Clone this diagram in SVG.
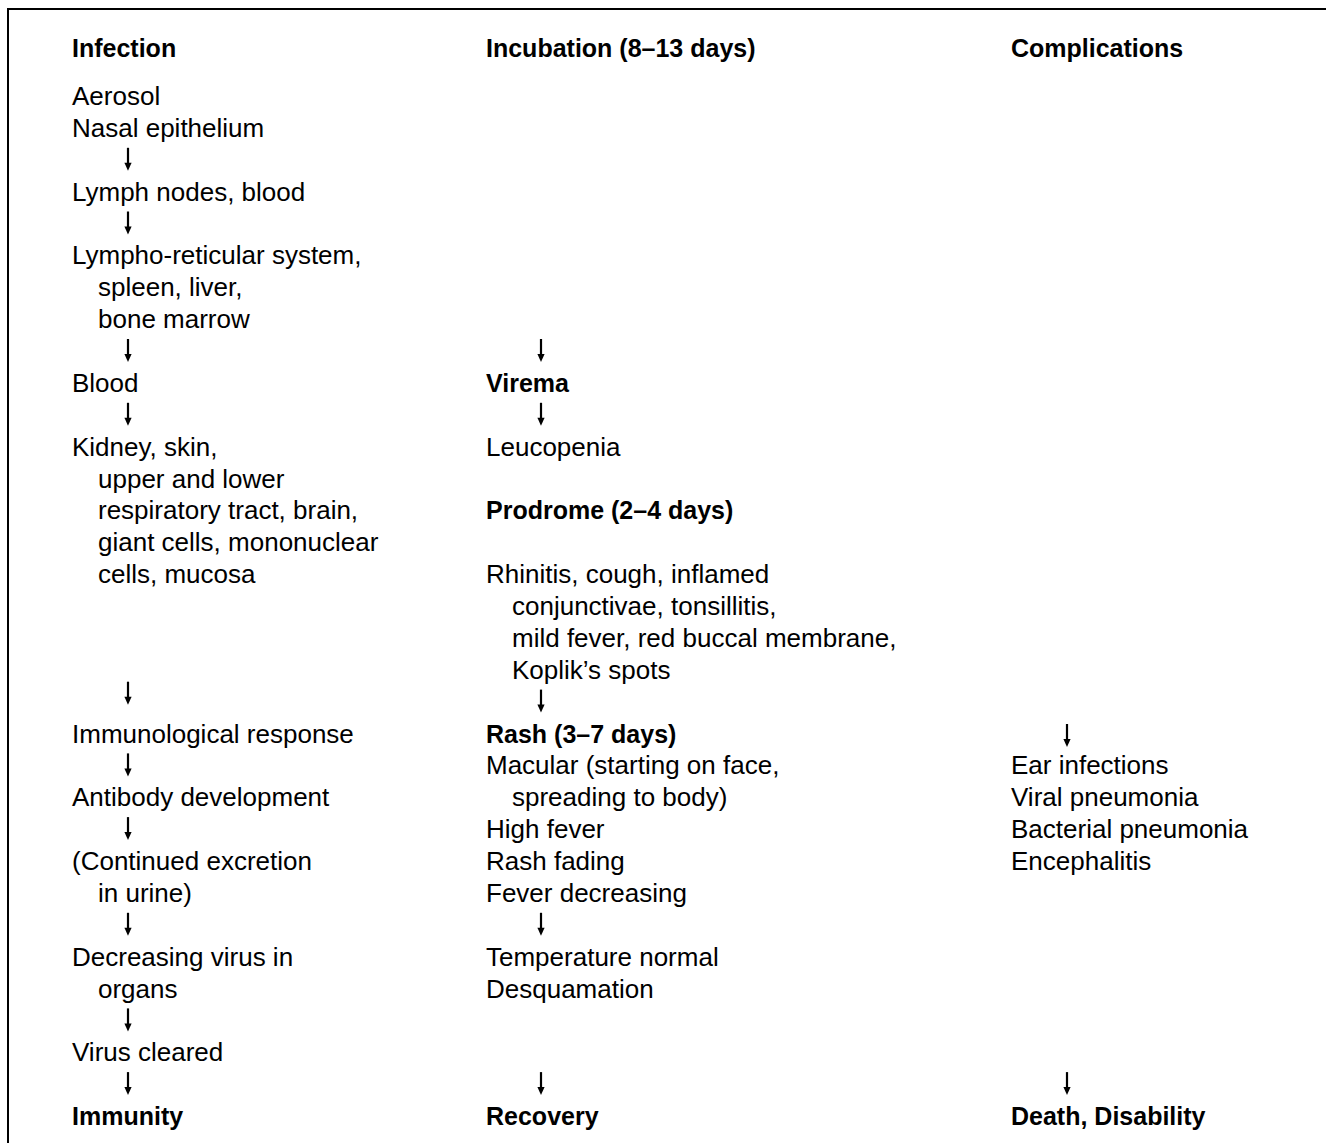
<svg xmlns="http://www.w3.org/2000/svg" xmlns:xlink="http://www.w3.org/1999/xlink" width="1326" height="1143" viewBox="0 0 1326 1143">
<style>
text{font-family:"Liberation Sans",Arial,sans-serif;font-size:26px;fill:#000}
.b{font-weight:bold;font-size:25px}
.frame{stroke:#000;stroke-width:2;fill:none}
</style>
<defs>
<g id="arr"><path d="M0,-11 V6" stroke="#000" stroke-width="2.2" fill="none"/><path d="M-3.6,4 L3.6,4 L0,12 Z" fill="#000"/></g>
</defs>
<rect width="1326" height="1143" fill="#fff"/>
<path class="frame" d="M1326,9 H8 V1143"/>
<g id="headers">
<text class="b" x="72" y="57">Infection</text>
<text class="b" x="486" y="57">Incubation (8–13 days)</text>
<text class="b" x="1011" y="57">Complications</text>
</g>
<g id="col-infection">
<text x="72" y="105">Aerosol</text>
<text x="72" y="136.9">Nasal epithelium</text>
<text x="72" y="200.6">Lymph nodes, blood</text>
<text x="72" y="264.4">Lympho-reticular system,</text>
<text x="98" y="296.3">spleen, liver,</text>
<text x="98" y="328.1">bone marrow</text>
<text x="72" y="391.9">Blood</text>
<text x="72" y="455.6">Kidney, skin,</text>
<text x="98" y="487.5">upper and lower</text>
<text x="98" y="519.4">respiratory tract, brain,</text>
<text x="98" y="551.3">giant cells, mononuclear</text>
<text x="98" y="583.1">cells, mucosa</text>
<text x="72" y="742.5">Immunological response</text>
<text x="72" y="806.3">Antibody development</text>
<text x="72" y="870">(Continued excretion</text>
<text x="98" y="901.9">in urine)</text>
<text x="72" y="965.6">Decreasing virus in</text>
<text x="98" y="997.5">organs</text>
<text x="72" y="1061.3">Virus cleared</text>
<text class="b" x="72" y="1125">Immunity</text>
</g>
<g id="col-incubation">
<text class="b" x="486" y="391.9">Virema</text>
<text x="486" y="455.6">Leucopenia</text>
<text class="b" x="486" y="519.4">Prodrome (2–4 days)</text>
<text x="486" y="583.1">Rhinitis, cough, inflamed</text>
<text x="512" y="615">conjunctivae, tonsillitis,</text>
<text x="512" y="646.9">mild fever, red buccal membrane,</text>
<text x="512" y="678.8">Koplik’s spots</text>
<text class="b" x="486" y="742.5">Rash (3–7 days)</text>
<text x="486" y="774.4">Macular (starting on face,</text>
<text x="512" y="806.3">spreading to body)</text>
<text x="486" y="838.1">High fever</text>
<text x="486" y="870">Rash fading</text>
<text x="486" y="901.9">Fever decreasing</text>
<text x="486" y="965.6">Temperature normal</text>
<text x="486" y="997.5">Desquamation</text>
<text class="b" x="486" y="1125">Recovery</text>
</g>
<g id="col-complications">
<text x="1011" y="774.4">Ear infections</text>
<text x="1011" y="806.3">Viral pneumonia</text>
<text x="1011" y="838.1">Bacterial pneumonia</text>
<text x="1011" y="870">Encephalitis</text>
<text class="b" x="1011" y="1125">Death, Disability</text>
</g>
<g id="connectors">
<use xlink:href="#arr" x="128" y="158.8"/>
<use xlink:href="#arr" x="128" y="222.5"/>
<use xlink:href="#arr" x="128" y="350"/>
<use xlink:href="#arr" x="128" y="413.8"/>
<use xlink:href="#arr" x="128" y="692.7"/>
<use xlink:href="#arr" x="128" y="764.4"/>
<use xlink:href="#arr" x="128" y="828.1"/>
<use xlink:href="#arr" x="128" y="923.8"/>
<use xlink:href="#arr" x="128" y="1019.4"/>
<use xlink:href="#arr" x="128" y="1083.1"/>
<use xlink:href="#arr" x="541" y="350"/>
<use xlink:href="#arr" x="541" y="413.8"/>
<use xlink:href="#arr" x="541" y="700.6"/>
<use xlink:href="#arr" x="541" y="923.8"/>
<use xlink:href="#arr" x="541" y="1083.1"/>
<use xlink:href="#arr" x="1067" y="735"/>
<use xlink:href="#arr" x="1067" y="1083.1"/>
</g>
</svg>
